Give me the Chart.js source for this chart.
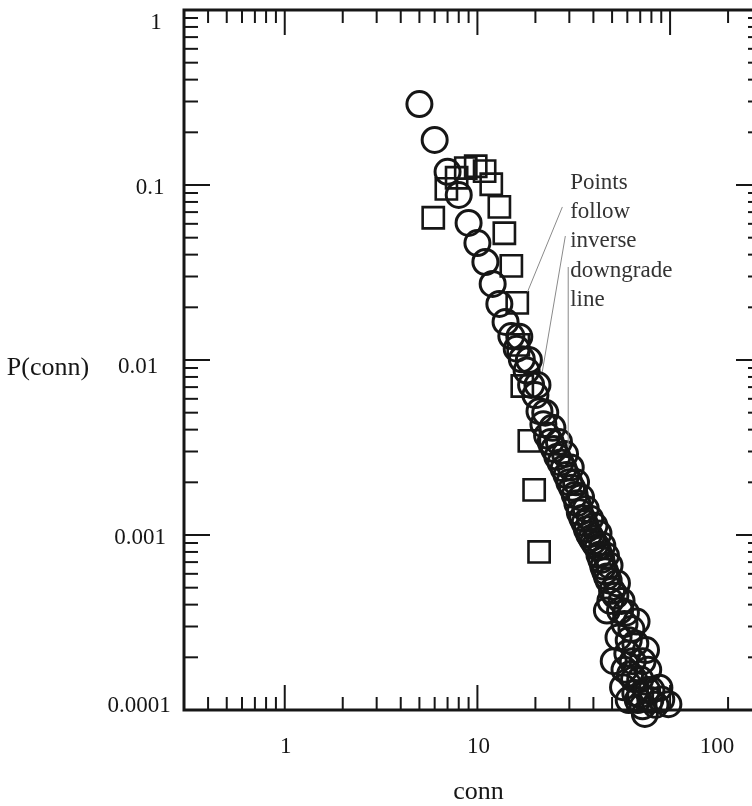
<!DOCTYPE html>
<html>
<head>
<meta charset="utf-8">
<title>P(conn) vs conn</title>
<script src="https://cdn.jsdelivr.net/npm/chart.js@4.4.0/dist/chart.umd.min.js"></script>
<style>
  html, body { margin: 0; padding: 0; overflow: hidden; background: #fff; }
  #wrap { width: 770px; height: 806px; }
</style>
</head>
<body>
<div id="wrap"><canvas id="connChart" width="770" height="806"></canvas></div>
<script>
// Circle series: conn and P(conn)
const circleConn = [5, 6, 7, 8, 9, 10, 11, 12, 13, 14, 15, 16, 17, 18, 19, 20,
  21, 22, 23, 24, 25, 26, 27, 28, 29, 30, 31, 32, 33, 34, 35, 36, 37, 38, 39, 40,
  41, 42, 43, 44, 45, 46, 47, 48,
  16.5, 18.5, 20.5, 22.5, 24.5, 26.5, 28.5, 30.5, 32.5, 34.5, 36.5, 38.5, 40.5, 42.5, 44.5, 46.5, 48.5,
  49, 53, 47, 67, 57, 88, 98, 74, 75, 54, 51, 52, 55, 58, 61, 64, 62, 70, 79, 68, 84, 61, 70,
  50, 56, 59, 63, 66, 60, 72, 65, 77, 58, 80, 66, 90, 72, 76];
const circleP = [0.29, 0.181, 0.119, 0.0877, 0.0607, 0.0466, 0.0363, 0.0272, 0.0209, 0.0165, 0.0137, 0.0116, 0.0101, 0.0087, 0.0072, 0.0063,
  0.0051, 0.0043, 0.0037, 0.0034, 0.0031, 0.0028, 0.0026, 0.0024, 0.0022, 0.0020, 0.00186, 0.00169, 0.00152, 0.00135, 0.00125, 0.00117, 0.00108, 0.00101, 0.00096, 0.00092,
  0.00088, 0.00085, 0.00077, 0.00072, 0.00066, 0.00062, 0.00058, 0.00055,
  0.0136, 0.0100, 0.0072, 0.0050, 0.0041, 0.0034, 0.0029, 0.00243, 0.0020, 0.00164, 0.00141, 0.00124, 0.00113, 0.00102, 0.00087, 0.00076, 0.00067,
  0.00042, 0.00053, 0.00037, 0.00032, 0.000135, 0.000134, 0.000108, 0.000095, 0.00022, 0.00026, 0.00019, 0.00045, 0.00037, 0.00031, 0.00025, 0.00019, 0.00016, 0.00015, 0.000114, 0.000114, 0.000107, 0.000114, 0.000122,
  0.00048, 0.00042, 0.00036, 0.00029, 0.00024, 0.00021, 0.00019, 0.00015, 0.00017, 0.00017, 0.00013, 0.000125, 0.000115, 0.000105, 0.00013];

// Square series
const squareConn = [5.9, 6.9, 7.8, 8.7, 9.8, 10.9, 11.8, 13.0, 13.8, 15.0, 16.1, 16.3, 17.1, 18.6, 19.7, 20.9];
const squareP = [0.065, 0.095, 0.11, 0.125, 0.128, 0.12, 0.101, 0.075, 0.053, 0.0345, 0.0212, 0.0122, 0.0071, 0.00345, 0.00181, 0.0008];

// Axis ticks and titles
const xRange = [0.3, 300];
const yRange = [0.0001, 1];
const xTickValues = [1, 10, 100];
const xTickLabels = ['1', '10', '100'];
const yTickValues = [1, 0.1, 0.01, 0.001, 0.0001];
const yTickLabels = ['1', '0.1', '0.01', '0.001', '0.0001'];
const xTitle = 'conn';
const yTitle = 'P(conn)';

// Annotation text and where its leader lines point (data coords)
const noteLines = ['Points', 'follow', 'inverse', 'downgrade', 'line'];
const noteAnchor = [30.3, 0.103];
const leaderLines = [
  [[27.6, 0.0749], [18.2, 0.0245]],
  [[28.6, 0.0511], [21.7, 0.00853]],
  [[29.6, 0.034], [29.6, 0.00318]]
];

const serif = '"Liberation Serif", "Times New Roman", serif';
const ink = '#161616';

function toPoints(xs, ys) {
  return xs.map((x, i) => ({ x: x, y: ys[i] }));
}

// every n * 10^k inside the range, flagged major when n == 1
function logSteps(lo, hi) {
  const out = [];
  for (let e = Math.floor(Math.log10(lo)); e <= Math.ceil(Math.log10(hi)); e++) {
    for (let n = 1; n <= 9; n++) {
      const v = n * Math.pow(10, e);
      if (v > lo * 1.0001 && v < hi * 0.9999) out.push({ v: v, major: n === 1 });
    }
  }
  return out;
}

function seg(ctx, x1, y1, x2, y2) {
  ctx.beginPath();
  ctx.moveTo(x1, y1);
  ctx.lineTo(x2, y2);
  ctx.stroke();
}

const framePlugin = {
  id: 'frame',
  afterDatasetsDraw(chart) {
    const { ctx, chartArea: a, scales } = chart;
    const xs = scales.x, ys = scales.y;
    ctx.save();
    ctx.strokeStyle = ink;
    ctx.lineCap = 'butt';

    // inward ticks on all four sides
    ctx.lineWidth = 2;
    logSteps(xRange[0], xRange[1]).forEach(t => {
      const px = xs.getPixelForValue(t.v);
      const len = t.major ? 25 : 13;
      seg(ctx, px, a.bottom, px, a.bottom - len);
      seg(ctx, px, a.top, px, a.top + len);
    });
    logSteps(yRange[0], yRange[1]).forEach(t => {
      const py = ys.getPixelForValue(t.v);
      const len = t.major ? 26 : 14;
      seg(ctx, a.left, py, a.left + len, py);
      seg(ctx, a.right, py, a.right - len, py);
    });

    ctx.lineWidth = 3;
    ctx.strokeRect(a.left, a.top, a.right - a.left, a.bottom - a.top);
    ctx.restore();
  },
  afterDraw(chart) {
    const { ctx, chartArea: a, scales } = chart;
    const xs = scales.x, ys = scales.y;
    ctx.save();
    ctx.fillStyle = ink;
    ctx.textBaseline = 'middle';
    ctx.textAlign = 'center';

    // tick labels (the original sets "100" well right of its tick)
    ctx.font = '23px ' + serif;
    const xNudge = [0, 0, 46];
    xTickValues.forEach((v, i) => {
      ctx.fillText(xTickLabels[i], xs.getPixelForValue(v) + 1 + xNudge[i], a.bottom + 37);
    });
    const yLabelX = [156, 150, 138, 140, 139];
    const yNudge = [13, 3, 7, 3, -4];
    yTickValues.forEach((v, i) => {
      ctx.fillText(yTickLabels[i], yLabelX[i], ys.getPixelForValue(v) + yNudge[i]);
    });

    // axis titles
    ctx.font = '26px ' + serif;
    ctx.fillText(xTitle, xs.getPixelForValue(10) + 1, a.bottom + 82);
    ctx.fillText(yTitle, 48, ys.getPixelForValue(0.01) + 8);

    // annotation
    ctx.strokeStyle = '#8a8a8a';
    ctx.lineWidth = 1;
    leaderLines.forEach(l => {
      seg(ctx, xs.getPixelForValue(l[0][0]), ys.getPixelForValue(l[0][1]),
        xs.getPixelForValue(l[1][0]), ys.getPixelForValue(l[1][1]));
    });
    ctx.fillStyle = '#333';
    ctx.font = '23px ' + serif;
    ctx.textAlign = 'left';
    const nx = xs.getPixelForValue(noteAnchor[0]);
    const ny = ys.getPixelForValue(noteAnchor[1]);
    noteLines.forEach((s, i) => ctx.fillText(s, nx, ny + i * 29.3));
    ctx.restore();
  }
};

const chart = new Chart(document.getElementById('connChart'), {
  type: 'scatter',
  data: {
    datasets: [
      {
        label: 'circles',
        data: toPoints(circleConn, circleP),
        pointStyle: 'circle',
        pointRadius: 12.5,
        pointBorderWidth: 3,
        pointBorderColor: ink,
        pointBackgroundColor: 'rgba(0,0,0,0)',
        clip: false
      },
      {
        label: 'squares',
        data: toPoints(squareConn, squareP),
        pointStyle: 'rect',
        pointRadius: 15,
        pointBorderWidth: 2.6,
        pointBorderColor: ink,
        pointBackgroundColor: 'rgba(0,0,0,0)',
        clip: false
      }
    ]
  },
  options: {
    responsive: false,
    animation: false,
    layout: { autoPadding: false, padding: { left: 184, right: 8, top: 10, bottom: 96 } },
    plugins: {
      legend: { display: false },
      tooltip: { enabled: false }
    },
    scales: {
      x: { type: 'logarithmic', min: xRange[0], max: xRange[1], display: false },
      y: { type: 'logarithmic', min: yRange[0], max: yRange[1], display: false }
    }
  },
  plugins: [framePlugin]
});
</script>
</body>
</html>
